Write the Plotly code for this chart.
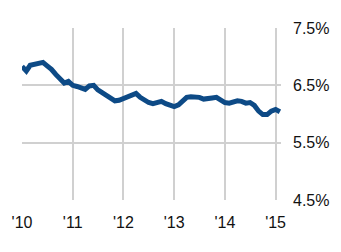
import plotly.graph_objects as go
import pandas as pd

dates = pd.date_range("2010-01-01", periods=62, freq="MS")
rate = [6.83, 6.75, 6.85, 6.87, 6.88, 6.90, 6.84, 6.78, 6.69, 6.60,
        6.54, 6.57, 6.50, 6.48, 6.46, 6.43, 6.49, 6.50, 6.42, 6.37,
        6.33, 6.27, 6.23, 6.24, 6.27, 6.30, 6.32, 6.36, 6.29, 6.24,
        6.20, 6.18, 6.21, 6.22, 6.18, 6.16, 6.13, 6.16, 6.22, 6.29,
        6.30, 6.30, 6.29, 6.26, 6.26, 6.28, 6.29, 6.24, 6.20, 6.19,
        6.22, 6.23, 6.22, 6.19, 6.20, 6.15, 6.05, 5.99, 5.99, 6.05,
        6.08, 6.04]
x_tickvals = ["2010-01-01", "2011-01-01", "2012-01-01", "2013-01-01", "2014-01-01", "2015-01-01"]
x_ticktext = ["'10", "'11", "'12", "'13", "'14", "'15"]
y_tickvals = [4.5, 5.5, 6.5, 7.5]
y_ticktext = ["4.5%", "5.5%", "6.5%", "7.5%"]

fig = go.Figure()
fig.add_trace(go.Scatter(x=dates, y=rate, mode="lines",
                         line=dict(color="#0d4a86", width=5), hoverinfo="skip"))

font = dict(family="Liberation Sans Narrow, Arial Narrow, Liberation Sans, sans-serif", size=16, color="#111111")
fig.update_layout(
    width=341, height=252,
    margin=dict(l=21, r=56, t=28, b=52),
    paper_bgcolor="white", plot_bgcolor="white",
    showlegend=False,
    font=font,
    xaxis=dict(range=["2010-01-01", "2015-02-09"], tickvals=x_tickvals, ticktext=x_ticktext,
               showgrid=True, gridcolor="#d0d0d0", gridwidth=2, zeroline=False,
               showline=False, ticks="", ticklabelstandoff=11),
    yaxis=dict(range=[4.5, 7.5], side="right", tickvals=y_tickvals, ticktext=y_ticktext,
               showgrid=True, gridcolor="#d0d0d0", gridwidth=2, zeroline=False,
               showline=False, ticks="", ticklabelstandoff=11),
)
fig.write_html("out.html")
